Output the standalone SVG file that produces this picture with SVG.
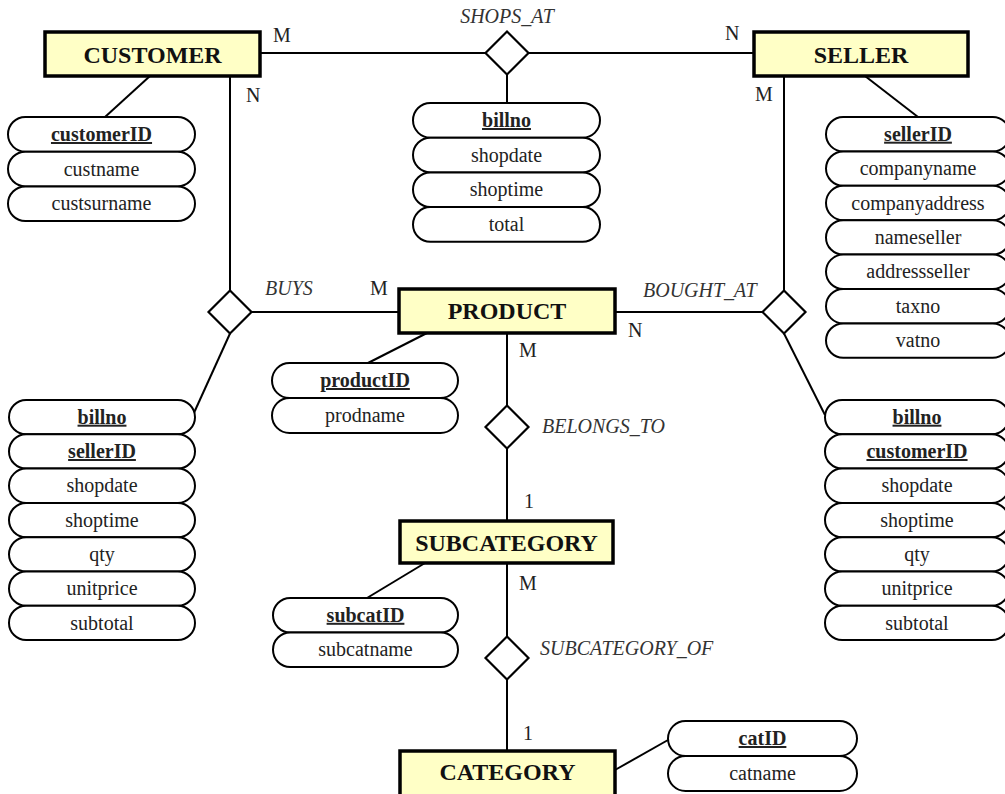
<svg xmlns="http://www.w3.org/2000/svg" width="1005" height="794" viewBox="0 0 1005 794">
<style>
.ent{fill:#FFFFC6;stroke:#000;stroke-width:3.5}
.et{font-family:"Liberation Serif",serif;font-weight:bold;font-size:24px;fill:#111;text-anchor:middle}
.dia{fill:#fff;stroke:#000;stroke-width:2.2}
.rl{font-family:"Liberation Serif",serif;font-style:italic;font-size:20px;fill:#333}
.card{font-family:"Liberation Serif",serif;font-size:20px;fill:#222}
.pill{fill:#fff;stroke:#000;stroke-width:2}
.at{font-family:"Liberation Serif",serif;font-size:20px;fill:#222;text-anchor:middle}
.key{font-weight:bold;text-decoration:underline}
.ln{stroke:#000;stroke-width:2;fill:none}
</style>
<rect width="1005" height="794" fill="#fff"/>
<g id="connectors">
<line class="ln" x1="260" y1="53" x2="485.5" y2="53"/>
<line class="ln" x1="528.5" y1="53" x2="754" y2="53"/>
<line class="ln" x1="507" y1="74.5" x2="507" y2="103"/>
<line class="ln" x1="230" y1="76" x2="230" y2="290.5"/>
<line class="ln" x1="251.5" y1="312" x2="399" y2="312"/>
<line class="ln" x1="230" y1="333.5" x2="193" y2="415"/>
<line class="ln" x1="784" y1="76" x2="784" y2="290.5"/>
<line class="ln" x1="615" y1="312" x2="762.5" y2="312"/>
<line class="ln" x1="784" y1="333.5" x2="825" y2="415"/>
<line class="ln" x1="507" y1="333" x2="507" y2="405.5"/>
<line class="ln" x1="507" y1="448.5" x2="507" y2="521"/>
<line class="ln" x1="507" y1="563" x2="507" y2="636.5"/>
<line class="ln" x1="507" y1="679.5" x2="507" y2="751"/>
<line class="ln" x1="150" y1="76" x2="105" y2="117"/>
<line class="ln" x1="865" y1="76" x2="918" y2="117"/>
<line class="ln" x1="427" y1="333" x2="368" y2="363"/>
<line class="ln" x1="425" y1="563" x2="367" y2="598"/>
<line class="ln" x1="615" y1="770" x2="668" y2="740"/>
</g>
<g id="cardinalities">
<text class="card" x="273" y="42">M</text>
<text class="card" x="246" y="102">N</text>
<text class="card" x="725" y="40">N</text>
<text class="card" x="755" y="101">M</text>
<text class="card" x="370" y="295">M</text>
<text class="card" x="628" y="337">N</text>
<text class="card" x="519" y="357">M</text>
<text class="card" x="524" y="508">1</text>
<text class="card" x="519" y="590">M</text>
<text class="card" x="523" y="740">1</text>
</g>
<g id="customer">
<rect class="ent" x="45" y="32" width="215" height="44"/>
<text class="et" x="152.5" y="63">CUSTOMER</text>
</g>
<g id="seller">
<rect class="ent" x="754" y="32" width="214" height="44"/>
<text class="et" x="861" y="63">SELLER</text>
</g>
<g id="product">
<rect class="ent" x="399" y="289" width="216" height="44"/>
<text class="et" x="507" y="319">PRODUCT</text>
</g>
<g id="subcategory">
<rect class="ent" x="400" y="521" width="213" height="42"/>
<text class="et" x="506.5" y="551">SUBCATEGORY</text>
</g>
<g id="category">
<rect class="ent" x="400" y="751" width="215" height="46"/>
<text class="et" x="507.5" y="780">CATEGORY</text>
</g>
<g id="shops_at">
<polygon class="dia" points="507,31.5 528.5,53 507,74.5 485.5,53"/>
<text class="rl" x="507" y="23" text-anchor="middle">SHOPS_AT</text>
</g>
<g id="buys">
<polygon class="dia" points="230,290.5 251.5,312 230,333.5 208.5,312"/>
<text class="rl" x="265" y="295">BUYS</text>
</g>
<g id="bought_at">
<polygon class="dia" points="784,290.5 805.5,312 784,333.5 762.5,312"/>
<text class="rl" x="643" y="297">BOUGHT_AT</text>
</g>
<g id="belongs_to">
<polygon class="dia" points="507,405.5 528.5,427 507,448.5 485.5,427"/>
<text class="rl" x="542" y="433">BELONGS_TO</text>
</g>
<g id="subcategory_of">
<polygon class="dia" points="507,636.5 528.5,658 507,679.5 485.5,658"/>
<text class="rl" x="540" y="655">SUBCATEGORY_OF</text>
</g>
<g id="customer_attrs">
<rect class="pill" x="8" y="117" width="187" height="34.7" rx="17.35"/>
<rect class="pill" x="8" y="151.7" width="187" height="34.7" rx="17.35"/>
<rect class="pill" x="8" y="186.4" width="187" height="34.7" rx="17.35"/>
<text class="at key" x="101.5" y="141">customerID</text>
<text class="at" x="101.5" y="175.5">custname</text>
<text class="at" x="101.5" y="210.2">custsurname</text>
</g>
<g id="shops_at_attrs">
<rect class="pill" x="413" y="103" width="187" height="34.7" rx="17.35"/>
<rect class="pill" x="413" y="137.7" width="187" height="34.7" rx="17.35"/>
<rect class="pill" x="413" y="172.4" width="187" height="34.7" rx="17.35"/>
<rect class="pill" x="413" y="207.1" width="187" height="34.7" rx="17.35"/>
<text class="at key" x="506.5" y="127">billno</text>
<text class="at" x="506.5" y="161.7">shopdate</text>
<text class="at" x="506.5" y="196.4">shoptime</text>
<text class="at" x="506.5" y="231.1">total</text>
</g>
<g id="seller_attrs">
<rect class="pill" x="826" y="117" width="184" height="34.4" rx="17.2"/>
<rect class="pill" x="826" y="151.4" width="184" height="34.4" rx="17.2"/>
<rect class="pill" x="826" y="185.8" width="184" height="34.4" rx="17.2"/>
<rect class="pill" x="826" y="220.2" width="184" height="34.4" rx="17.2"/>
<rect class="pill" x="826" y="254.6" width="184" height="34.4" rx="17.2"/>
<rect class="pill" x="826" y="289" width="184" height="34.4" rx="17.2"/>
<rect class="pill" x="826" y="323.4" width="184" height="34.4" rx="17.2"/>
<text class="at key" x="918" y="140.7">sellerID</text>
<text class="at" x="918" y="175.1">companyname</text>
<text class="at" x="918" y="209.5">companyaddress</text>
<text class="at" x="918" y="243.9">nameseller</text>
<text class="at" x="918" y="278.3">addressseller</text>
<text class="at" x="918" y="312.7">taxno</text>
<text class="at" x="918" y="347.1">vatno</text>
</g>
<g id="product_attrs">
<rect class="pill" x="272" y="363" width="186" height="35" rx="17.5"/>
<rect class="pill" x="272" y="398" width="186" height="35" rx="17.5"/>
<text class="at key" x="365" y="387">productID</text>
<text class="at" x="365" y="422">prodname</text>
</g>
<g id="buys_attrs">
<rect class="pill" x="9" y="400" width="186" height="34.3" rx="17.15"/>
<rect class="pill" x="9" y="434.3" width="186" height="34.3" rx="17.15"/>
<rect class="pill" x="9" y="468.6" width="186" height="34.3" rx="17.15"/>
<rect class="pill" x="9" y="502.9" width="186" height="34.3" rx="17.15"/>
<rect class="pill" x="9" y="537.2" width="186" height="34.3" rx="17.15"/>
<rect class="pill" x="9" y="571.5" width="186" height="34.3" rx="17.15"/>
<rect class="pill" x="9" y="605.8" width="186" height="34.3" rx="17.15"/>
<text class="at key" x="102" y="423.7">billno</text>
<text class="at key" x="102" y="458">sellerID</text>
<text class="at" x="102" y="492.3">shopdate</text>
<text class="at" x="102" y="526.6">shoptime</text>
<text class="at" x="102" y="560.9">qty</text>
<text class="at" x="102" y="595.2">unitprice</text>
<text class="at" x="102" y="629.5">subtotal</text>
</g>
<g id="bought_at_attrs">
<rect class="pill" x="825" y="400" width="184" height="34.3" rx="17.15"/>
<rect class="pill" x="825" y="434.3" width="184" height="34.3" rx="17.15"/>
<rect class="pill" x="825" y="468.6" width="184" height="34.3" rx="17.15"/>
<rect class="pill" x="825" y="502.9" width="184" height="34.3" rx="17.15"/>
<rect class="pill" x="825" y="537.2" width="184" height="34.3" rx="17.15"/>
<rect class="pill" x="825" y="571.5" width="184" height="34.3" rx="17.15"/>
<rect class="pill" x="825" y="605.8" width="184" height="34.3" rx="17.15"/>
<text class="at key" x="917" y="423.7">billno</text>
<text class="at key" x="917" y="458">customerID</text>
<text class="at" x="917" y="492.3">shopdate</text>
<text class="at" x="917" y="526.6">shoptime</text>
<text class="at" x="917" y="560.9">qty</text>
<text class="at" x="917" y="595.2">unitprice</text>
<text class="at" x="917" y="629.5">subtotal</text>
</g>
<g id="subcategory_attrs">
<rect class="pill" x="273" y="598" width="185" height="34.5" rx="17.25"/>
<rect class="pill" x="273" y="632.5" width="185" height="34.5" rx="17.25"/>
<text class="at key" x="365.5" y="621.8">subcatID</text>
<text class="at" x="365.5" y="656.3">subcatname</text>
</g>
<g id="category_attrs">
<rect class="pill" x="668" y="721" width="189" height="35" rx="17.5"/>
<rect class="pill" x="668" y="756" width="189" height="35" rx="17.5"/>
<text class="at key" x="762.5" y="745">catID</text>
<text class="at" x="762.5" y="780">catname</text>
</g>
</svg>
